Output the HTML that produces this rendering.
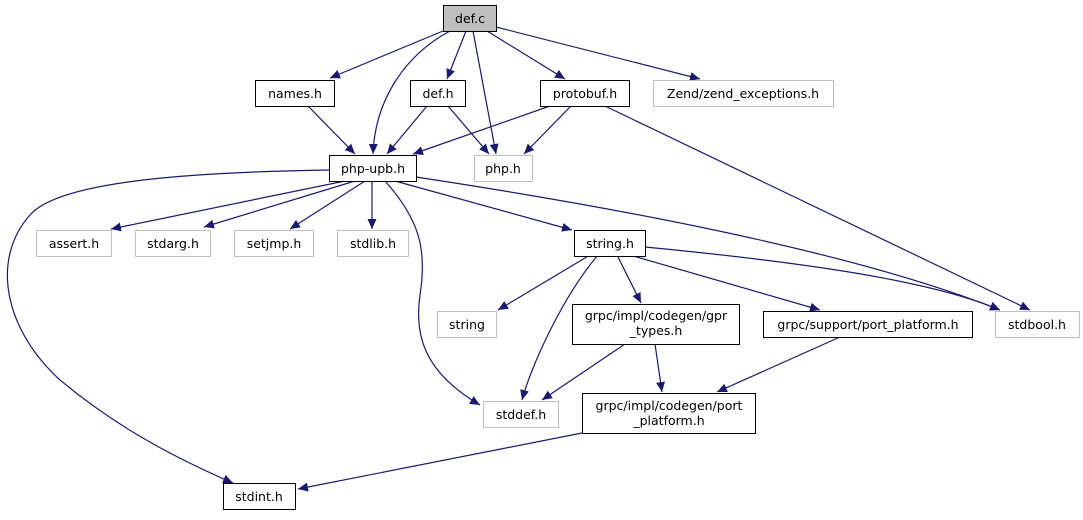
<!DOCTYPE html>
<html><head><meta charset="utf-8"><style>
body{margin:0;background:#fff;width:1083px;height:515px;overflow:hidden}
text{font-family:"DejaVu Sans","Liberation Sans",sans-serif;font-size:12.5px;fill:#000}
</style></head><body>
<svg width="1083" height="515" viewBox="0 0 1083 515" xmlns="http://www.w3.org/2000/svg">
<defs><marker id="a" viewBox="0 0 10 10" refX="10" refY="5" markerWidth="10" markerHeight="10" markerUnits="userSpaceOnUse" orient="auto"><path d="M0,0.5 L10,5 L0,9.5 z" fill="#191970"/></marker></defs>
<g fill="none" stroke="#191970" stroke-width="1.2" marker-end="url(#a)">
<path d="M443,31 L330,78"/>
<path d="M450,31 C405,55 375,100 373,154"/>
<path d="M466,31 L447,79"/>
<path d="M473,31 L496,154"/>
<path d="M487,31 L565,79"/>
<path d="M496,27 L700,79"/>
<path d="M308,106 L355,154"/>
<path d="M427,106 L387,154"/>
<path d="M448,106 L489,154"/>
<path d="M550,106 L413,154"/>
<path d="M571,106 L524,154"/>
<path d="M605,106 L1030,310"/>
<path d="M329,170 C200,172 60,180 30,215 C-10,260 5,330 60,380 C120,430 180,460 233,483"/>
<path d="M345,181 L111,229"/>
<path d="M355,181 L204,227"/>
<path d="M365,181 L290,229"/>
<path d="M372,181 L372,229"/>
<path d="M395,181 L572,230"/>
<path d="M416,177 C600,205 850,250 1000,310"/>
<path d="M385,181 C420,220 427,250 420,295 C415,330 420,370 480,405"/>
<path d="M590,255 L498,310"/>
<path d="M598,255 C560,300 530,370 522,400"/>
<path d="M617,255 L641,303"/>
<path d="M630,255 L820,310"/>
<path d="M645,247 C800,262 930,280 1000,310"/>
<path d="M625,344 L542,400"/>
<path d="M655,344 L662,392"/>
<path d="M840,337 L717,392"/>
<path d="M582,433 L298,489"/>
</g>
<g stroke-width="1">
<rect x="443.5" y="5.5" width="53" height="26" fill="#bfbfbf" stroke="#000"/>
<rect x="255.5" y="80.5" width="79" height="26" fill="#fff" stroke="#000"/>
<rect x="410.5" y="80.5" width="55" height="26" fill="#fff" stroke="#000"/>
<rect x="540.5" y="80.5" width="89" height="26" fill="#fff" stroke="#000"/>
<rect x="653.5" y="80.5" width="180" height="26" fill="#fff" stroke="#bfbfbf"/>
<rect x="329.5" y="155.5" width="87" height="26" fill="#fff" stroke="#000"/>
<rect x="474.5" y="155.5" width="58" height="26" fill="#fff" stroke="#bfbfbf"/>
<rect x="36.5" y="230.5" width="75" height="26" fill="#fff" stroke="#bfbfbf"/>
<rect x="135.5" y="230.5" width="75" height="26" fill="#fff" stroke="#bfbfbf"/>
<rect x="234.5" y="230.5" width="79" height="26" fill="#fff" stroke="#bfbfbf"/>
<rect x="337.5" y="230.5" width="71" height="26" fill="#fff" stroke="#bfbfbf"/>
<rect x="574.5" y="230.5" width="71" height="26" fill="#fff" stroke="#000"/>
<rect x="437.5" y="311.5" width="59" height="26" fill="#fff" stroke="#bfbfbf"/>
<rect x="572.5" y="304.5" width="167" height="40" fill="#fff" stroke="#000"/>
<rect x="763.5" y="311.5" width="209" height="26" fill="#fff" stroke="#000"/>
<rect x="995.5" y="311.5" width="84" height="26" fill="#fff" stroke="#bfbfbf"/>
<rect x="483.5" y="401.5" width="75" height="26" fill="#fff" stroke="#bfbfbf"/>
<rect x="582.5" y="393.5" width="173" height="40" fill="#fff" stroke="#000"/>
<rect x="223.5" y="483.5" width="72" height="26" fill="#fff" stroke="#000"/>
</g>
<g text-anchor="middle">
<text x="470" y="23">def.c</text>
<text x="295" y="98">names.h</text>
<text x="438" y="98">def.h</text>
<text x="585" y="98">protobuf.h</text>
<text x="743" y="98">Zend/zend_exceptions.h</text>
<text x="373" y="173">php-upb.h</text>
<text x="503" y="173">php.h</text>
<text x="74" y="248">assert.h</text>
<text x="173" y="248">stdarg.h</text>
<text x="274" y="248">setjmp.h</text>
<text x="373" y="248">stdlib.h</text>
<text x="610" y="248">string.h</text>
<text x="467" y="329">string</text>
<text x="656" y="320">grpc/impl/codegen/gpr</text>
<text x="656" y="335">_types.h</text>
<text x="868" y="329">grpc/support/port_platform.h</text>
<text x="1037" y="329">stdbool.h</text>
<text x="521" y="419">stddef.h</text>
<text x="669" y="410">grpc/impl/codegen/port</text>
<text x="669" y="425">_platform.h</text>
<text x="259" y="501">stdint.h</text>
</g>
</svg>
</body></html>
